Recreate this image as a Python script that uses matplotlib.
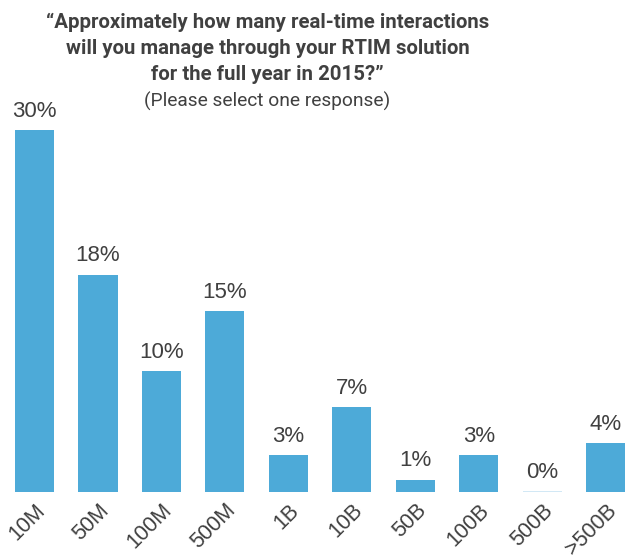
import matplotlib
matplotlib.use("Agg")
import matplotlib.pyplot as plt
from matplotlib.transforms import ScaledTranslation

BAR_COLOR = "#4DAAD8"
ZERO_COLOR = "#C9E4F3"
TEXT_COLOR = "#404040"

categories = ["10M", "50M", "100M", "500M", "1B", "10B", "50B", "100B", "500B", ">500B"]
shares = [30, 18, 10, 15, 3, 7, 1, 3, 0, 4]

title_lines = [
    "\u201cApproximately how many real-time interactions",
    "will you manage through your RTIM solution",
    "for the full year in 2015?\u201d",
]
subtitle = "(Please select one response)"

plt.rcParams["font.family"] = ["Liberation Sans", "DejaVu Sans"]

fig = plt.figure(figsize=(6.25, 5.58), dpi=100)
ax = fig.add_axes([0.0, 0.119, 1.0, 0.691])

xs = list(range(len(categories)))
bars = ax.bar(xs, shares, width=0.615, color=BAR_COLOR, zorder=2)
for b, v in zip(bars, shares):
    if v == 0:
        b.set_edgecolor(ZERO_COLOR)
        b.set_linewidth(1.2)
    ax.annotate(f"{v}%", xy=(b.get_x() + b.get_width() / 2, v),
                xytext=(0, 6), textcoords="offset points",
                ha="center", va="bottom", fontsize=16, color=TEXT_COLOR)

ax.set_xlim(-0.543, 9.30)
ax.set_ylim(0, 32)
ax.set_yticks([])
ax.set_xticks(xs)
ax.set_xticklabels(categories, rotation=45, ha="right", va="top",
                   rotation_mode="anchor", fontsize=15.5, color=TEXT_COLOR)
offset = ScaledTranslation(10 / 100, 0, fig.dpi_scale_trans)
for lbl in ax.get_xticklabels():
    lbl.set_transform(lbl.get_transform() + offset)
ax.tick_params(axis="x", length=0, pad=6)
for s in ax.spines.values():
    s.set_visible(False)

# title lines placed by baseline (pixels from the top)
for line, ypx in zip(title_lines, [28, 54, 80]):
    fig.text(0.428, 1 - ypx / 558, line, ha="center", va="baseline", fontsize=14.7,
             fontweight="bold", color=TEXT_COLOR, family=["Roboto", "DejaVu Sans"])
fig.text(0.427, 1 - 107 / 558, subtitle, ha="center", va="baseline", fontsize=13.8,
         color=TEXT_COLOR, family=["Roboto", "DejaVu Sans"])

fig.savefig("out.png", dpi=100)
